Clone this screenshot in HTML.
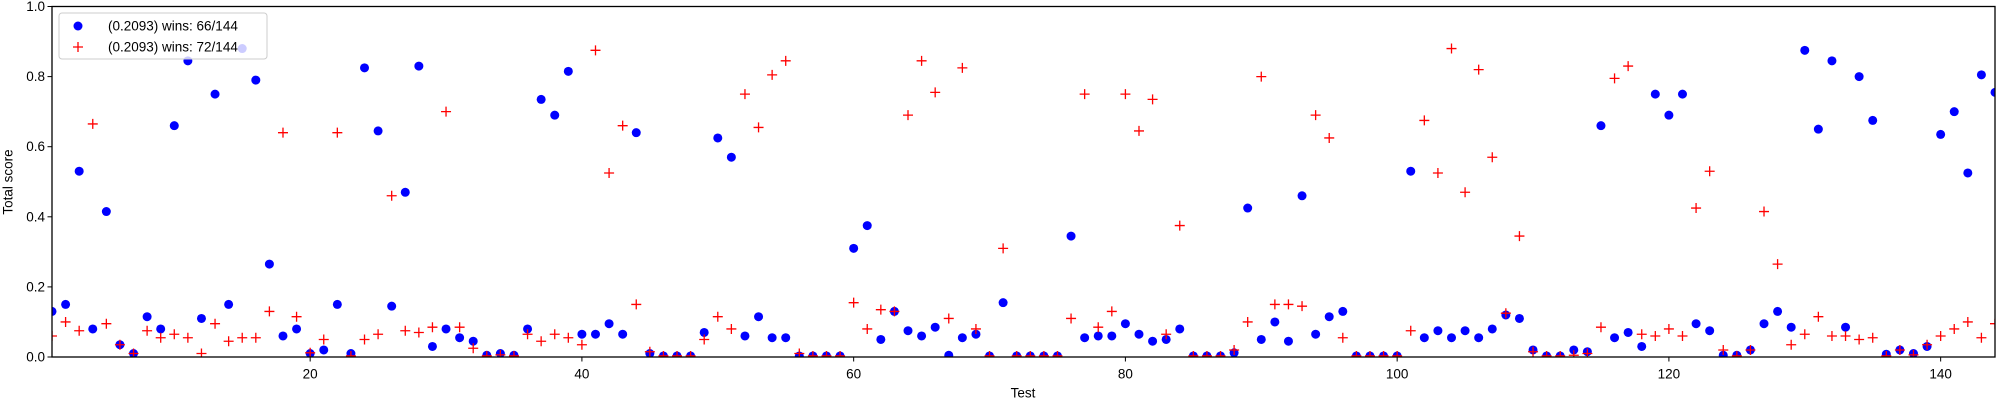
<!DOCTYPE html>
<html><head><meta charset="utf-8"><style>
html,body{margin:0;padding:0;background:#fff;}
svg{display:block;font-family:"Liberation Sans","DejaVu Sans",sans-serif;}
</style></head><body>
<svg id="chart" width="2000" height="400" viewBox="0 0 2000 400">
<g id="marks"></g>
<rect x="52" y="6.5" width="1943" height="350.5" fill="none" stroke="#000" stroke-width="1.3"/>
<g id="axes"></g>
<text x="8" y="182" transform="rotate(-90 8 182)" text-anchor="middle" dominant-baseline="central" font-size="13.5">Total score</text>
<text x="1023" y="393" text-anchor="middle" dominant-baseline="central" font-size="13.5">Test</text>
<g>
<rect x="59" y="13" width="208" height="46" rx="3" fill="#fff" fill-opacity="0.8" stroke="#ccc"/>
<circle cx="78" cy="26" r="4.5" fill="#0000ff"/>
<text x="108" y="26" dominant-baseline="central" font-size="13.5">(0.2093) wins: 66/144</text>
<path d="M73,47 h10 M78,42 v10" stroke="#ff0000" stroke-width="1.3"/>
<text x="108" y="47" dominant-baseline="central" font-size="13.5">(0.2093) wins: 72/144</text>
</g>
</svg>
<script>
const blueValues=[0.13,0.15,0.53,0.08,0.415,0.035,0.01,0.115,0.08,0.66,0.845,0.11,0.75,0.15,0.88,0.79,0.265,0.06,0.08,0.01,0.02,0.15,0.01,0.825,0.645,0.145,0.47,0.83,0.03,0.08,0.055,0.045,0.005,0.01,0.005,0.08,0.735,0.69,0.815,0.065,0.065,0.095,0.065,0.64,0.01,0.003,0.003,0.003,0.07,0.625,0.57,0.06,0.115,0.055,0.055,0.003,0.003,0.003,0.003,0.31,0.375,0.05,0.13,0.075,0.06,0.085,0.005,0.055,0.065,0.003,0.155,0.003,0.003,0.003,0.003,0.345,0.055,0.06,0.06,0.095,0.065,0.045,0.05,0.08,0.003,0.003,0.003,0.012,0.425,0.05,0.1,0.045,0.46,0.065,0.115,0.13,0.003,0.003,0.003,0.003,0.53,0.055,0.075,0.055,0.075,0.055,0.08,0.12,0.11,0.02,0.003,0.003,0.02,0.015,0.66,0.055,0.07,0.03,0.75,0.69,0.75,0.095,0.075,0.005,0.005,0.02,0.095,0.13,0.085,0.875,0.65,0.845,0.085,0.8,0.675,0.008,0.02,0.01,0.03,0.635,0.7,0.525,0.805,0.755];
const redValues=[0.06,0.1,0.075,0.665,0.095,0.035,0.01,0.075,0.055,0.065,0.055,0.01,0.095,0.045,0.055,0.055,0.13,0.64,0.115,0.012,0.05,0.64,0.003,0.05,0.065,0.46,0.075,0.07,0.085,0.7,0.085,0.025,0.003,0.006,0.003,0.065,0.045,0.065,0.055,0.035,0.875,0.525,0.66,0.15,0.015,0.003,0.003,0.003,0.05,0.115,0.08,0.75,0.655,0.805,0.845,0.01,0.003,0.003,0.003,0.155,0.08,0.135,0.13,0.69,0.845,0.755,0.11,0.825,0.08,0.003,0.31,0.003,0.003,0.003,0.003,0.11,0.75,0.085,0.13,0.75,0.645,0.735,0.065,0.375,0.003,0.003,0.003,0.02,0.1,0.8,0.15,0.15,0.145,0.69,0.625,0.055,0.003,0.003,0.003,0.003,0.075,0.675,0.525,0.88,0.47,0.82,0.57,0.125,0.345,0.015,0.003,0.003,0.005,0.01,0.085,0.795,0.83,0.065,0.06,0.08,0.06,0.425,0.53,0.02,0.003,0.02,0.415,0.265,0.035,0.065,0.115,0.06,0.06,0.05,0.055,0.003,0.02,0.006,0.035,0.06,0.08,0.1,0.055,0.095];
const xTicks=[20,40,60,80,100,120,140];
const yTicks=[0.0,0.2,0.4,0.6,0.8,1.0];
const yTickLabels=["0.0","0.2","0.4","0.6","0.8","1.0"];

const NS="http://www.w3.org/2000/svg";
const X0=52,X1=1995,Y0=357,Y1=6.5,XMIN=1,XMAX=144;
function xs(v){return X0+(v-XMIN)/(XMAX-XMIN)*(X1-X0);}
function ys(v){return Y0-v*(Y0-Y1);}
const marks=document.getElementById('marks');
const axes=document.getElementById('axes');
const clip=document.createElementNS(NS,'clipPath');clip.setAttribute('id','pc');
const cr=document.createElementNS(NS,'rect');cr.setAttribute('x',X0);cr.setAttribute('y',Y1);cr.setAttribute('width',X1-X0);cr.setAttribute('height',Y0-Y1);
clip.appendChild(cr);document.getElementById('chart').appendChild(clip);
marks.setAttribute('clip-path','url(#pc)');
blueValues.forEach((v,i)=>{
  const c=document.createElementNS(NS,'circle');
  c.setAttribute('cx',xs(i+1));c.setAttribute('cy',ys(v));c.setAttribute('r',4.5);c.setAttribute('fill','#0000ff');
  
  
  marks.appendChild(c);
});
redValues.forEach((v,i)=>{
  const x=xs(i+1),y=ys(v);
  const p=document.createElementNS(NS,'path');
  p.setAttribute('d',`M${x-5},${y} h10 M${x},${y-5} v10`);p.setAttribute('stroke','#ff0000');p.setAttribute('stroke-width','1.3');p.setAttribute('fill','none');
  
  
  marks.appendChild(p);
});
xTicks.forEach(t=>{
  const x=xs(t);
  const l=document.createElementNS(NS,'line');
  l.setAttribute('x1',x);l.setAttribute('x2',x);l.setAttribute('y1',Y0);l.setAttribute('y2',Y0+4.5);l.setAttribute('stroke','#000');
  
  
  axes.appendChild(l);
  const tx=document.createElementNS(NS,'text');
  tx.setAttribute('x',x);tx.setAttribute('y',374);tx.setAttribute('text-anchor','middle');tx.setAttribute('dominant-baseline','central');tx.setAttribute('font-size','13.5');
  tx.textContent=String(t);
  
  
  axes.appendChild(tx);
});
yTicks.forEach((t,i)=>{
  const y=ys(t);
  const l=document.createElementNS(NS,'line');
  l.setAttribute('x1',X0-4.5);l.setAttribute('x2',X0);l.setAttribute('y1',y);l.setAttribute('y2',y);l.setAttribute('stroke','#000');
  
  
  axes.appendChild(l);
  const tx=document.createElementNS(NS,'text');
  tx.setAttribute('x',45);tx.setAttribute('y',y);tx.setAttribute('text-anchor','end');tx.setAttribute('dominant-baseline','central');tx.setAttribute('font-size','13.5');
  tx.textContent=yTickLabels[i];
  
  
  axes.appendChild(tx);
});
</script>
</body></html>
